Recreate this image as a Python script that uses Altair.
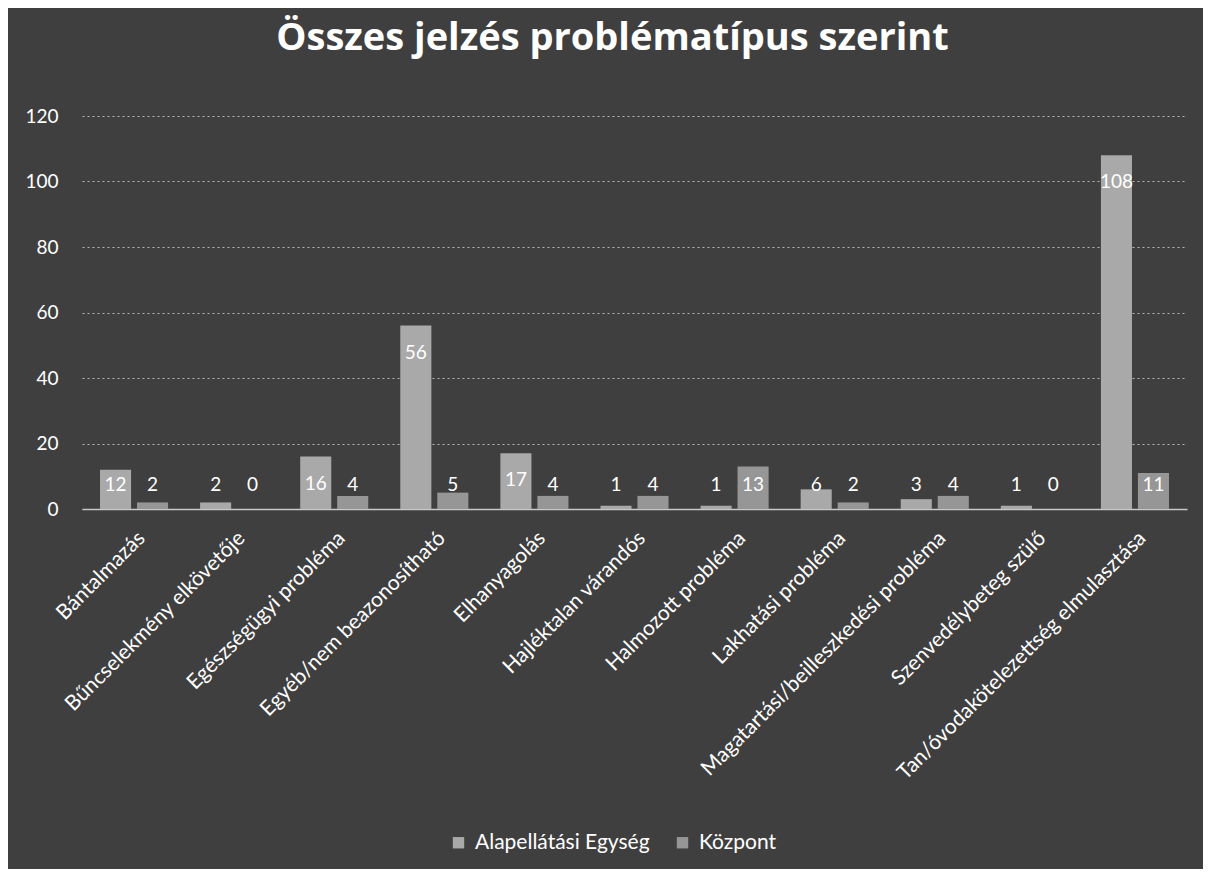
import altair as alt
import pandas as pd

categories = [
    "Bántalmazás",
    "Bűncselekmény elkövetője",
    "Egészségügyi probléma",
    "Egyéb/nem beazonosítható",
    "Elhanyagolás",
    "Hajléktalan várandós",
    "Halmozott probléma",
    "Lakhatási probléma",
    "Magatartási/beilleszkedési probléma",
    "Szenvedélybeteg szülő",
    "Tan/óvodakötelezettség elmulasztása",
]
alapellatasi = [12, 2, 16, 56, 17, 1, 1, 6, 3, 1, 108]
kozpont = [2, 0, 4, 5, 4, 4, 13, 2, 4, 0, 11]
series_names = ["Alapellátási Egység", "Központ"]
y_ticks = [0, 20, 40, 60, 80, 100, 120]

rows = []
for c, a, k in zip(categories, alapellatasi, kozpont):
    rows.append({"cat": c, "series": series_names[0], "value": a})
    rows.append({"cat": c, "series": series_names[1], "value": k})
df = pd.DataFrame(rows)

FONT = "Lato"

x_enc = alt.X(
    "cat:N",
    sort=categories,
    title=None,
    scale=alt.Scale(paddingInner=0.32, paddingOuter=0.18),
    axis=alt.Axis(
        labelAngle=-45,
        labelColor="#ffffff",
        labelFont=FONT,
        labelFontSize=21,
        labelLimit=0,
        labelPadding=18,
        ticks=False,
        domainColor="#c8c8c8",
        domainWidth=1.5,
        grid=False,
    ),
)
xoff_enc = alt.XOffset("series:N", sort=series_names, scale=alt.Scale(paddingInner=0.16))
y_enc = alt.Y(
    "value:Q",
    title=None,
    scale=alt.Scale(domain=[0, 120], nice=False),
    axis=alt.Axis(
        values=y_ticks,
        labelColor="#ffffff",
        labelFont=FONT,
        labelFontSize=19,
        labelPadding=24,
        ticks=False,
        domain=False,
        grid=True,
        gridColor="#b8b8b8",
        gridDash=[2, 3],
        gridWidth=1.2,
    ),
)
color_enc = alt.Color(
    "series:N",
    sort=series_names,
    scale=alt.Scale(domain=series_names, range=["#a9a9a9", "#969696"]),
    legend=alt.Legend(
        title=None,
        orient="none",
        direction="horizontal",
        legendX=366,
        legendY=716,
        symbolType="square",
        symbolSize=130,
        symbolStrokeWidth=0,
        labelColor="#ffffff",
        labelFont=FONT,
        labelFontSize=21,
        labelOffset=6,
        labelLimit=0,
        columnPadding=22,
        symbolOffset=0,
    ),
)

bars = alt.Chart(df).mark_bar().encode(
    x=x_enc, xOffset=xoff_enc, y=y_enc, color=color_enc
)

labels = (
    alt.Chart(df)
    .transform_calculate(ly="max(datum.value, 15.5)")
    .mark_text(color="#ffffff", font=FONT, fontSize=19, dy=27, baseline="middle")
    .encode(x=x_enc, xOffset=xoff_enc, y=alt.Y("ly:Q"), text="value:Q")
)

chart = (
    alt.layer(bars, labels)
    .properties(
        width=1105,
        height=393,
        autosize=alt.AutoSizeParams(type="none"),
        padding={"left": 74, "top": 108, "right": 16, "bottom": 360},
        title=alt.TitleParams(
            "Összes jelzés problématípus szerint",
            font="Open Sans",
            fontSize=38,
            fontWeight="bold",
            color="#ffffff",
            anchor="middle",
            dx=-22,
            offset=49,
        ),
    )
    .configure(background="#3f3f3f")
    .configure_view(stroke=None)
)

chart.save("out.html", embed_options={"renderer": "svg", "actions": False})
